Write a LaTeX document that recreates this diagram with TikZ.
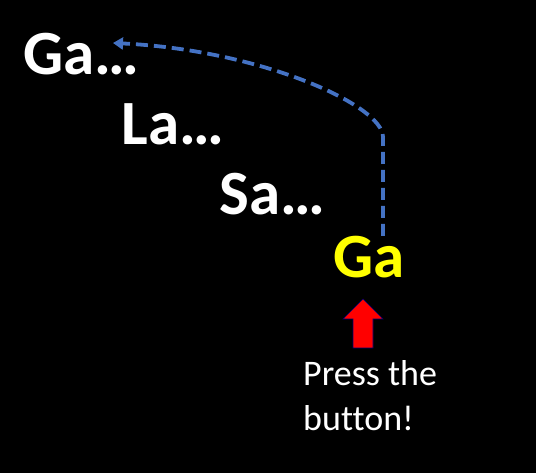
\documentclass[tikz,border=0pt]{standalone}
\usepackage{fontspec}
\setmainfont{Carlito}[Ligatures=NoCommon]
\usetikzlibrary{positioning, arrows.meta}
\definecolor{dashblue}{RGB}{68,114,196}
\definecolor{sunyellow}{RGB}{255,255,0}

\begin{document}
\begin{tikzpicture}[
        x=1pt, y=-1pt,
        every node/.style={inner sep=0pt},
        word/.style={font=\fontsize{63}{63}\selectfont\bfseries, text=white, anchor=base west},
        now/.style={word, text=sunyellow},
        hint/.style={font=\fontsize{36}{45}\selectfont, text=white, align=left, anchor=base west},
        push/.style={fill=red, draw=black!55!blue, line width=0.6pt, line join=miter},
        jump/.style={draw=dashblue, line width=3.8pt, dash pattern=on 12pt off 6pt, -{Triangle[length=10pt,width=12pt]}}
    ]
        \fill[black] (0,0) rectangle (536,473);

        % Syllables
        \node[word] (ga1) at (23,75) {Ga…};
        \node[word, below right=70pt and 98.5pt of ga1.base west, anchor=base west] (la) {La…};
        \node[word, below right=70pt and 98pt of la.base west, anchor=base west] (sa) {Sa…};
        \node[now, below right=63pt and 113.5pt of sa.base west, anchor=base west] (ga2) {Ga};

        % Button
        \coordinate (press) at (363,299);
        \draw[push] (press) -- ++(20,20) -- ++(-10,0) -- ++(0,29) -- ++(-20,0) -- ++(0,-29) -- ++(-10,0) -- cycle;
        \node[hint] (label) at (303,430) {Press the\\button!};

        % Back to the start
        \coordinate (lift) at (383,236);
        \coordinate (dest) at (113,43);
        \draw[jump] (lift) -- (383,137) .. controls (383,105) and (260,50) .. (dest);
\end{tikzpicture}
\end{document}
